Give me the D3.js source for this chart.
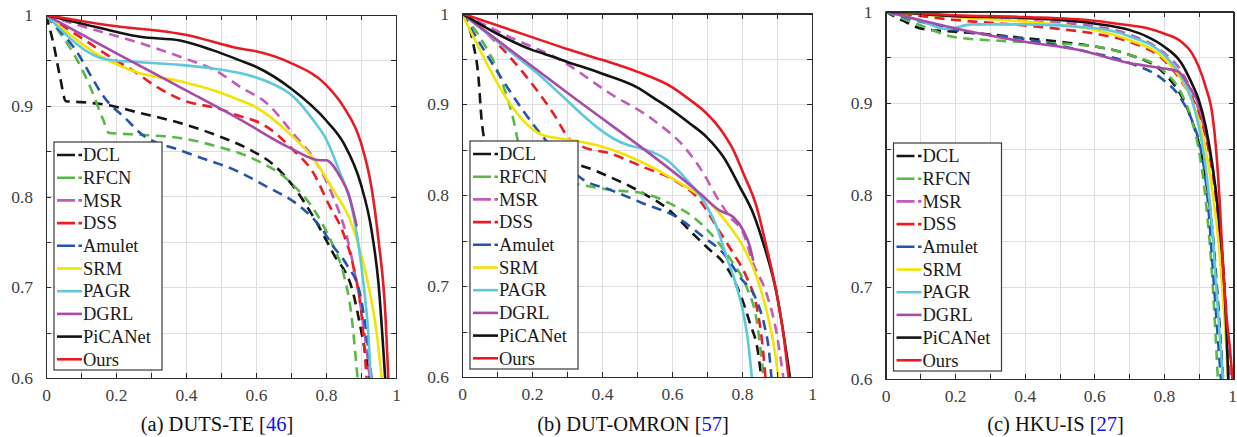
<!DOCTYPE html>
<html>
<head>
<meta charset="utf-8">
<script src="https://cdnjs.cloudflare.com/ajax/libs/d3/7.8.5/d3.min.js"></script>
<style>
  body { margin: 0; background: #fff; }
  .grid line { stroke: #dedede; stroke-width: 1; shape-rendering: crispEdges; }
  .axis path, .axis line { stroke: #2b2b2b; shape-rendering: crispEdges; }
  .axis text { fill: #404040; }
  .legend-box { fill: #fff; stroke: #3a3a3a; stroke-width: 1.2; }
  .legend-label { fill: #1a1a1a; }
  .caption { fill: #111; }
</style>
</head>
<body>
<svg id="chart" width="1237" height="437"></svg>
<script>
var serif = "'Liberation Serif', Tinos, 'Times New Roman', Times, 'DejaVu Serif', serif";

// methods, in legend order
var methods = ["DCL", "RFCN", "MSR", "DSS", "Amulet", "SRM", "PAGR", "DGRL", "PiCANet", "Ours"];
var methodColors = ["#151515", "#58b947", "#c35bbb", "#ec1c24", "#2455a8", "#f2e400", "#5ec8dc", "#a84aa8", "#141414", "#e81b22"];
var methodDashed = [true, true, true, true, true, false, false, false, false, false];

var xTickValues = [0, 0.1, 0.2, 0.3, 0.4, 0.5, 0.6, 0.7, 0.8, 0.9, 1];
var xTickLabels = ["0", "", "0.2", "", "0.4", "", "0.6", "", "0.8", "", "1"];
var yTickValues = [0.6, 0.65, 0.7, 0.75, 0.8, 0.85, 0.9, 0.95, 1];
var yTickLabels = ["0.6", "", "0.7", "", "0.8", "", "0.9", "", "1"];

// (a) DUTS-TE : [recall, precision]
var a_DCL = [[0,1],[0.021,0.969],[0.04,0.932],[0.057,0.905],[0.1,0.904],[0.173,0.901],[0.269,0.892],[0.383,0.881],[0.497,0.866],[0.58,0.852],[0.65,0.835],[0.711,0.809],[0.76,0.78],[0.821,0.737],[0.878,0.693],[0.902,0.649],[0.921,0.609],[0.925,0.6]];
var a_RFCN = [[0,1],[0.04,0.98],[0.078,0.958],[0.126,0.921],[0.164,0.884],[0.18,0.87],[0.22,0.869],[0.27,0.868],[0.39,0.864],[0.49,0.855],[0.59,0.842],[0.7,0.815],[0.773,0.781],[0.821,0.745],[0.85,0.715],[0.873,0.668],[0.89,0.6]];
var a_MSR = [[0,1],[0.126,0.985],[0.269,0.969],[0.383,0.954],[0.497,0.936],[0.554,0.921],[0.63,0.903],[0.707,0.869],[0.773,0.837],[0.82,0.8],[0.86,0.755],[0.89,0.7],[0.91,0.65],[0.925,0.6]];
var a_DSS = [[0,1],[0.1,0.975],[0.2,0.95],[0.24,0.941],[0.316,0.921],[0.392,0.906],[0.5,0.896],[0.535,0.891],[0.63,0.877],[0.707,0.851],[0.764,0.826],[0.807,0.792],[0.85,0.759],[0.878,0.723],[0.902,0.668],[0.916,0.6]];
var a_Amulet = [[0,1],[0.021,0.991],[0.078,0.965],[0.173,0.906],[0.23,0.885],[0.269,0.87],[0.383,0.851],[0.478,0.838],[0.516,0.833],[0.63,0.811],[0.726,0.789],[0.783,0.767],[0.821,0.745],[0.859,0.725],[0.897,0.693],[0.915,0.65],[0.93,0.6]];
var a_SRM = [[0,1],[0.154,0.955],[0.26,0.937],[0.383,0.927],[0.478,0.917],[0.554,0.906],[0.592,0.9],[0.697,0.869],[0.773,0.837],[0.821,0.807],[0.869,0.774],[0.902,0.734],[0.926,0.693],[0.945,0.649],[0.959,0.6]];
var a_PAGR = [[0,1],[0.173,0.951],[0.269,0.948],[0.383,0.945],[0.478,0.941],[0.554,0.936],[0.63,0.927],[0.707,0.91],[0.764,0.884],[0.802,0.862],[0.84,0.826],[0.869,0.796],[0.888,0.759],[0.907,0.704],[0.921,0.649],[0.928,0.6]];
var a_DGRL = [[0,1],[0.2,0.958],[0.4,0.917],[0.554,0.885],[0.7,0.853],[0.783,0.84],[0.8,0.84],[0.84,0.822],[0.864,0.803],[0.888,0.767]];
var a_PiCANet = [[0,1],[0.173,0.984],[0.269,0.976],[0.383,0.972],[0.478,0.961],[0.554,0.95],[0.6,0.943],[0.7,0.919],[0.8,0.884],[0.85,0.859],[0.9,0.813],[0.93,0.763],[0.95,0.704],[0.969,0.6]];
var a_Ours = [[0,1],[0.173,0.989],[0.402,0.978],[0.554,0.963],[0.6,0.96],[0.7,0.947],[0.8,0.923],[0.85,0.899],[0.9,0.859],[0.93,0.81],[0.95,0.752],[0.97,0.668],[0.978,0.6]];

// (b) DUT-OMRON
var b_DCL = [[0,1],[0.032,0.967],[0.047,0.93],[0.056,0.883],[0.066,0.86],[0.15,0.845],[0.25,0.838],[0.337,0.833],[0.423,0.82],[0.518,0.802],[0.594,0.783],[0.651,0.761],[0.699,0.743],[0.756,0.721],[0.794,0.692],[0.823,0.659],[0.845,0.629],[0.855,0.6]];
var b_RFCN = [[0,1],[0.051,0.974],[0.109,0.93],[0.147,0.883],[0.166,0.849],[0.19,0.83],[0.26,0.818],[0.347,0.811],[0.423,0.806],[0.518,0.802],[0.594,0.791],[0.661,0.776],[0.728,0.75],[0.775,0.725],[0.813,0.699],[0.842,0.662],[0.862,0.6]];
var b_MSR = [[0,1],[0.137,0.974],[0.28,0.949],[0.423,0.912],[0.546,0.883],[0.642,0.85],[0.69,0.824],[0.728,0.798],[0.766,0.776],[0.804,0.758],[0.832,0.725],[0.87,0.692],[0.899,0.648],[0.918,0.6]];
var b_DSS = [[0,1],[0.051,0.985],[0.185,0.93],[0.261,0.89],[0.309,0.861],[0.347,0.853],[0.423,0.846],[0.518,0.831],[0.604,0.817],[0.68,0.794],[0.728,0.765],[0.775,0.736],[0.813,0.71],[0.842,0.677],[0.858,0.637],[0.867,0.6]];
var b_Amulet = [[0,1],[0.232,0.864],[0.347,0.817],[0.423,0.806],[0.518,0.791],[0.613,0.776],[0.69,0.754],[0.747,0.736],[0.794,0.71],[0.842,0.684],[0.865,0.655],[0.877,0.629],[0.884,0.6]];
var b_SRM = [[0,1],[0.232,0.866],[0.309,0.861],[0.404,0.853],[0.499,0.839],[0.594,0.82],[0.67,0.802],[0.709,0.791],[0.766,0.765],[0.804,0.743],[0.842,0.71],[0.87,0.673],[0.89,0.637],[0.904,0.6]];
var b_PAGR = [[0,1],[0.2,0.939],[0.475,0.855],[0.518,0.851],[0.585,0.839],[0.642,0.817],[0.69,0.794],[0.728,0.765],[0.756,0.732],[0.785,0.699],[0.804,0.67],[0.818,0.637],[0.828,0.6]];
var b_DGRL = [[0,1],[0.3,0.913],[0.68,0.802],[0.737,0.783],[0.775,0.776],[0.804,0.761],[0.823,0.743],[0.832,0.728]];
var b_PiCANet = [[0,1],[0.099,0.978],[0.2,0.96],[0.232,0.956],[0.299,0.947],[0.399,0.934],[0.499,0.919],[0.556,0.905],[0.599,0.894],[0.651,0.879],[0.699,0.864],[0.747,0.842],[0.794,0.809],[0.832,0.78],[0.861,0.747],[0.899,0.692],[0.937,0.6]];
var b_Ours = [[0,1],[0.2,0.974],[0.3,0.961],[0.4,0.949],[0.5,0.936],[0.6,0.919],[0.651,0.905],[0.699,0.89],[0.747,0.868],[0.775,0.85],[0.804,0.824],[0.842,0.787],[0.87,0.743],[0.899,0.692],[0.918,0.648],[0.933,0.6]];

// (c) HKU-IS
var c_DCL = [[0,1],[0.05,0.99],[0.108,0.981],[0.2,0.978],[0.3,0.975],[0.4,0.971],[0.5,0.967],[0.6,0.962],[0.7,0.953],[0.8,0.933],[0.85,0.908],[0.88,0.882],[0.9,0.857],[0.92,0.82],[0.94,0.759],[0.955,0.686],[0.97,0.6]];
var c_RFCN = [[0,1],[0.1,0.985],[0.2,0.972],[0.337,0.968],[0.509,0.965],[0.6,0.962],[0.7,0.953],[0.8,0.935],[0.85,0.911],[0.88,0.882],[0.9,0.85],[0.92,0.795],[0.94,0.704],[0.955,0.6]];
var c_MSR = [[0,1],[0.2,0.994],[0.4,0.99],[0.6,0.984],[0.7,0.975],[0.8,0.955],[0.85,0.935],[0.9,0.893],[0.93,0.85],[0.95,0.802],[0.97,0.723],[0.98,0.668],[0.99,0.6]];
var c_DSS = [[0,1],[0.193,0.991],[0.393,0.985],[0.5,0.981],[0.6,0.976],[0.7,0.967],[0.8,0.947],[0.85,0.924],[0.9,0.889],[0.93,0.846],[0.95,0.795],[0.97,0.704],[0.985,0.6]];
var c_Amulet = [[0,1],[0.2,0.98],[0.415,0.969],[0.558,0.958],[0.701,0.944],[0.797,0.926],[0.844,0.908],[0.883,0.879],[0.906,0.85],[0.926,0.795],[0.94,0.723],[0.954,0.65],[0.964,0.6]];
var c_SRM = [[0,1],[0.2,0.994],[0.4,0.989],[0.6,0.98],[0.7,0.969],[0.8,0.949],[0.85,0.926],[0.88,0.904],[0.9,0.882],[0.92,0.85],[0.94,0.802],[0.96,0.737],[0.97,0.686],[0.98,0.632],[0.985,0.6]];
var c_PAGR = [[0,1],[0.1,0.99],[0.175,0.981],[0.25,0.986],[0.4,0.986],[0.6,0.982],[0.7,0.973],[0.8,0.953],[0.85,0.929],[0.88,0.904],[0.9,0.875],[0.92,0.831],[0.94,0.759],[0.95,0.704],[0.96,0.65],[0.97,0.6]];
var c_DGRL = [[0,1],[0.27,0.976],[0.4,0.967],[0.557,0.958],[0.7,0.944],[0.8,0.938],[0.84,0.935],[0.873,0.918],[0.902,0.897],[0.926,0.86]];
var c_PiCANet = [[0,1],[0.2,0.995],[0.4,0.993],[0.6,0.987],[0.7,0.98],[0.75,0.973],[0.8,0.962],[0.85,0.944],[0.88,0.922],[0.9,0.904],[0.92,0.875],[0.94,0.831],[0.95,0.802],[0.96,0.766],[0.97,0.723],[0.98,0.65],[0.985,0.6]];
var c_Ours = [[0,1],[0.2,0.996],[0.4,0.994],[0.6,0.99],[0.7,0.985],[0.75,0.982],[0.8,0.976],[0.85,0.967],[0.88,0.955],[0.9,0.94],[0.92,0.918],[0.94,0.886],[0.95,0.85],[0.96,0.795],[0.97,0.723],[0.98,0.668],[0.99,0.632],[0.997,0.6]];

var captions = [["(a) DUTS-TE [", "46", "]"], ["(b) DUT-OMRON [", "57", "]"], ["(c) HKU-IS [", "27", "]"]];

var panels = [
  { box: [46, 15, 396, 378], series: [a_DCL, a_RFCN, a_MSR, a_DSS, a_Amulet, a_SRM, a_PAGR, a_DGRL, a_PiCANet, a_Ours], caption: captions[0] },
  { box: [462, 13.5, 812, 377], series: [b_DCL, b_RFCN, b_MSR, b_DSS, b_Amulet, b_SRM, b_PAGR, b_DGRL, b_PiCANet, b_Ours], caption: captions[1] },
  { box: [885.5, 11.5, 1233.5, 379], series: [c_DCL, c_RFCN, c_MSR, c_DSS, c_Amulet, c_SRM, c_PAGR, c_DGRL, c_PiCANet, c_Ours], caption: captions[2] }
];

var svg = d3.select("#chart");

panels.forEach(function(p, pi){ drawPanel(p, pi); });

function drawPanel(p, pi){
  var x0 = p.box[0], y0 = p.box[1], x1 = p.box[2], y1 = p.box[3];

  var x = d3.scaleLinear().domain([0, 1]).range([x0, x1]);
  var y = d3.scaleLinear().domain([0.6, 1]).range([y1, y0]);

  var g = svg.append("g").attr("class", "panel panel-" + pi);

  // grid
  var grid = g.append("g").attr("class", "grid");
  grid.selectAll(".gx")
      .data(xTickValues.slice(1, -1))
    .enter().append("line")
      .attr("x1", function(d){ return Math.round(x(d)) + 0.5; })
      .attr("x2", function(d){ return Math.round(x(d)) + 0.5; })
      .attr("y1", y0).attr("y2", y1);
  grid.selectAll(".gy")
      .data(yTickValues.slice(1, -1))
    .enter().append("line")
      .attr("y1", function(d){ return Math.round(y(d)) + 0.5; })
      .attr("y2", function(d){ return Math.round(y(d)) + 0.5; })
      .attr("x1", x0).attr("x2", x1);

  // curves
  g.append("clipPath").attr("id", "clip-" + pi)
    .append("rect")
      .attr("x", x0).attr("y", y0)
      .attr("width", x1 - x0).attr("height", y1 - y0);

  var line = d3.line()
      .x(function(d){ return x(d[0]); })
      .y(function(d){ return y(d[1]); })
      .curve(d3.curveMonotoneX);

  g.append("g").attr("clip-path", "url(#clip-" + pi + ")")
    .selectAll("path")
      .data(p.series)
    .enter().append("path")
      .attr("d", line)
      .style("fill", "none")
      .style("stroke", function(d, i){ return methodColors[i]; })
      .style("stroke-width", 2.6)
      .style("stroke-linejoin", "round")
      .style("stroke-dasharray", function(d, i){ return methodDashed[i] ? "10,6.5" : null; });

  // axes (box with inward ticks)
  var fmtX = function(d){ return xTickLabels[xTickValues.indexOf(d)]; };
  var fmtY = function(d){ return yTickLabels[yTickValues.indexOf(d)]; };

  var xAxis = g.append("g").attr("class", "axis")
      .attr("transform", "translate(0," + y1 + ")")
      .call(d3.axisBottom(x).tickValues(xTickValues).tickFormat(fmtX).tickSizeInner(-5).tickSizeOuter(0).tickPadding(11));
  g.append("g").attr("class", "axis")
      .attr("transform", "translate(0," + y0 + ")")
      .call(d3.axisTop(x).tickValues(xTickValues).tickFormat("").tickSizeInner(-5).tickSizeOuter(0));
  g.append("g").attr("class", "axis")
      .attr("transform", "translate(" + x0 + ",0)")
      .call(d3.axisLeft(y).tickValues(yTickValues).tickFormat(fmtY).tickSizeInner(-5).tickSizeOuter(0).tickPadding(13));
  g.append("g").attr("class", "axis")
      .attr("transform", "translate(" + x1 + ",0)")
      .call(d3.axisRight(y).tickValues(yTickValues).tickFormat("").tickSizeInner(-5).tickSizeOuter(0));
  g.selectAll(".axis .domain").style("stroke-width", 1.2);
  g.selectAll(".axis text")
      .style("font-family", serif)
      .style("font-size", "17.5px");
  // keep the last "1" inside the picture
  xAxis.selectAll(".tick text").filter(function(d){ return d === 1; })
      .attr("dx", pi == 2 ? -1.5 : 0);

  // legend
  var lw = 108, lh = 228, lx = x0 + 8, ly = y1 - 8 - lh;
  var leg = g.append("g").attr("class", "legend").attr("transform", "translate(" + lx + "," + ly + ")");
  leg.append("rect").attr("class", "legend-box").attr("width", lw).attr("height", lh);

  var item = leg.selectAll(".legend-item")
      .data(methods)
    .enter().append("g")
      .attr("class", "legend-item")
      .attr("transform", function(d, i){ return "translate(0," + (13 + i * 22.7) + ")"; });
  item.append("line")
      .attr("x1", 3).attr("x2", 28)
      .style("stroke", function(d, i){ return methodColors[i]; })
      .style("stroke-width", 2.6)
      .style("stroke-dasharray", function(d, i){ return methodDashed[i] ? "18,3.5" : null; });
  item.append("text")
      .attr("class", "legend-label")
      .attr("x", 29).attr("dy", "0.34em")
      .style("font-family", serif)
      .style("font-size", "18.5px")
      .text(function(d){ return d; });

  // caption
  var cap = g.append("text")
      .attr("class", "caption")
      .attr("x", (x0 + x1) / 2 - 4)
      .attr("y", 431)
      .attr("text-anchor", "middle")
      .style("font-family", serif)
      .style("font-size", "20.5px");
  cap.append("tspan").text(p.caption[0]);
  cap.append("tspan").style("fill", "#1010f0").text(p.caption[1]);
  cap.append("tspan").text(p.caption[2]);
}
</script>
</body>
</html>
